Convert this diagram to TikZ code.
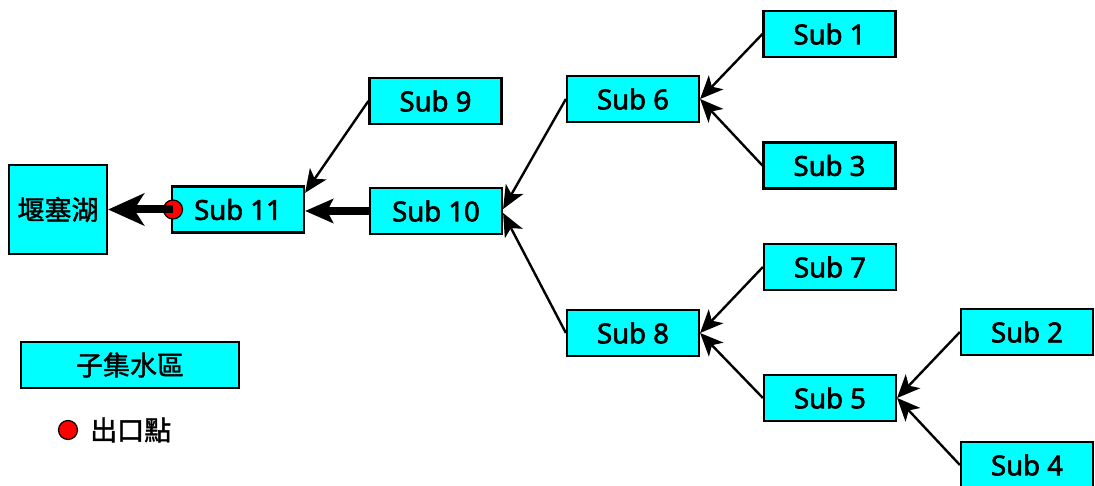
\documentclass[tikz,border=0pt]{standalone}
\usepackage{fontspec}
\setmainfont{Noto Sans}[RawFeature={embolden=2.2}]
\newfontfamily\cjk{Noto Sans CJK TC}[RawFeature={embolden=1.5}]
\usetikzlibrary{arrows.meta}

\definecolor{boxcyan}{RGB}{0,255,255}
\definecolor{outletred}{RGB}{255,0,0}

\tikzset{
  box/.style={draw=black, line width=2.2pt, fill=boxcyan, inner sep=0pt,
    font=\fontsize{27.5}{30}\selectfont},
  sub/.style={box, minimum width=132pt, minimum height=46pt},
  cjktext/.style={font=\cjk\fontsize{27}{30}\selectfont},
  flow/.style={line width=2.4pt, -{Stealth[length=23pt, width=20pt, inset=6pt]}},
  mainflow/.style={line width=8pt, -{Stealth[length=28pt, width=24pt, inset=6pt]}},
  outflow/.style={line width=8pt, -{Stealth[length=36pt, width=32pt, inset=10pt]}},
  outlet/.style={circle, draw=black, line width=1.2pt, fill=outletred, minimum size=19pt, inner sep=0pt},
}

\begin{document}
\begin{tikzpicture}[x=1pt, y=1pt]
  \useasboundingbox (0,0) rectangle (1095,-486);

  % receiving lake
  \node[box, cjktext, minimum width=98pt, minimum height=89pt] (lake) at (58,-209.5) {堰塞湖};

  % sub-catchments
  \node[sub] (s11) at (238,-209.5) {Sub 11};
  \node[sub] (s10) at (436,-211)   {Sub 10};
  \node[sub] (s9)  at (435.5,-101) {Sub 9};
  \node[sub] (s6)  at (633,-99)    {Sub 6};
  \node[sub] (s8)  at (633,-333)   {Sub 8};
  \node[sub] (s1)  at (829.5,-34)  {Sub 1};
  \node[sub] (s3)  at (829.5,-165.5) {Sub 3};
  \node[sub] (s7)  at (830,-267)   {Sub 7};
  \node[sub] (s5)  at (830,-398)   {Sub 5};
  \node[sub] (s2)  at (1027,-332)  {Sub 2};
  \node[sub] (s4)  at (1027,-465)  {Sub 4};

  % outlet point of Sub 11
  \node[outlet] (o11) at (173,-209.5) {};

  % flow routing
  \draw[outflow]  (o11.center) -- (lake.east);
  \draw[mainflow] (s10.west) -- (s10.west -| s11.east);
  \draw[flow] (s9.west) -- (s11.14);
  \draw[flow] (s6.west) -- ([yshift=2pt]s10.east);
  \draw[flow] (s8.west) -- ([yshift=-2pt]s10.east);
  \draw[flow] (s1.west) -- (s6.east);
  \draw[flow] (s3.west) -- (s6.east);
  \draw[flow] (s7.west) -- (s8.east);
  \draw[flow] (s5.west) -- (s8.east);
  \draw[flow] (s2.west) -- (s5.east);
  \draw[flow] (s4.west) -- (s5.east);

  % legend
  \node[box, cjktext, minimum width=218pt, minimum height=46pt] (lgbox) at (130,-365) {子集水區};
  \node[outlet] (lgdot) at (68,-430) {};
  \node[cjktext, anchor=west, inner sep=0pt] (lgtext) at (90,-430) {出口點};
\end{tikzpicture}
\end{document}
